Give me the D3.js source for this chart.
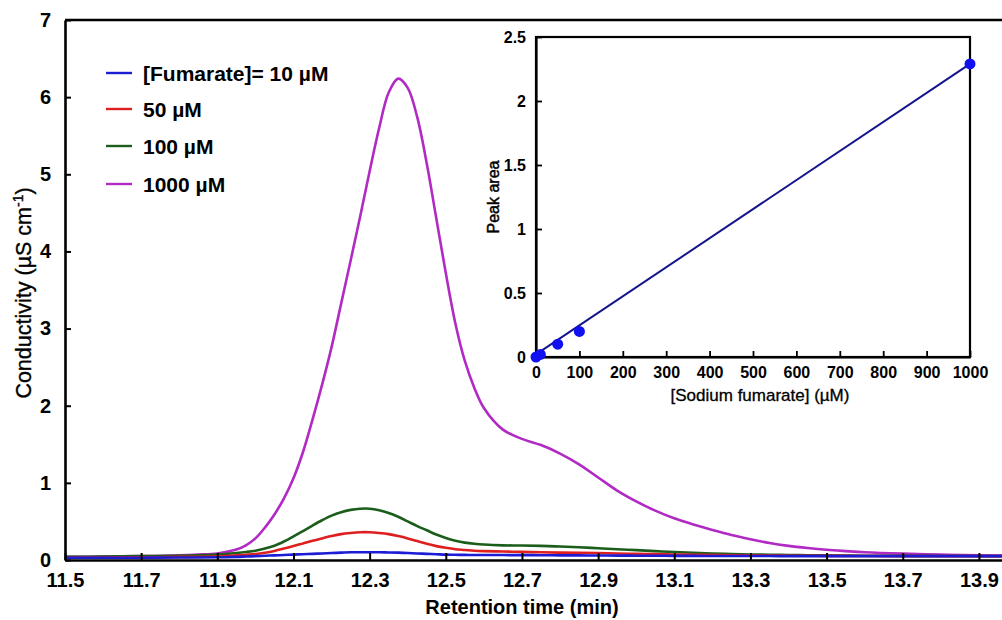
<!DOCTYPE html>
<html>
<head>
<meta charset="utf-8">
<script src="https://cdn.jsdelivr.net/npm/d3@7"></script>
<style>
  html, body { margin: 0; padding: 0; background: #fff; }
  svg { display: block; font-family: Arial, "Liberation Sans", sans-serif; }
</style>
</head>
<body>
<svg id="chart" width="1002" height="620"></svg>
<script>
// Retention times (min) shared by all chromatograms
const times = [11.5, 11.6, 11.7, 11.8, 11.85, 11.9, 11.95, 11.975,
  12.0, 12.025, 12.05, 12.075, 12.1, 12.125, 12.15, 12.175, 12.2, 12.225, 12.25, 12.275,
  12.3, 12.325, 12.35, 12.375, 12.4, 12.425, 12.45, 12.475, 12.5, 12.525, 12.55, 12.575, 12.6,
  12.65, 12.7, 12.75, 12.8, 12.85, 12.9, 12.95, 13.0, 13.05, 13.1, 13.15, 13.2, 13.25,
  13.3, 13.35, 13.4, 13.45, 13.5, 13.55, 13.6,
  13.7, 13.8, 13.9, 14.0];

// Conductivity (µS/cm) for each fumarate concentration
const cond10 = [0.03, 0.03, 0.03, 0.032, 0.033, 0.035, 0.04, 0.045,
  0.05, 0.055, 0.06, 0.065, 0.07, 0.075, 0.08, 0.085, 0.09, 0.095, 0.10, 0.10,
  0.10, 0.10, 0.098, 0.095, 0.09, 0.085, 0.08, 0.075, 0.07, 0.068, 0.066, 0.065, 0.065,
  0.064, 0.063, 0.062, 0.06, 0.06, 0.058, 0.057, 0.056, 0.055, 0.054, 0.053, 0.052, 0.052,
  0.051, 0.051, 0.05, 0.05, 0.05, 0.05, 0.05,
  0.05, 0.05, 0.05, 0.05];

const cond50 = [0.03, 0.032, 0.035, 0.04, 0.042, 0.047, 0.06, 0.068,
  0.078, 0.095, 0.118, 0.148, 0.18, 0.215, 0.25, 0.28, 0.31, 0.335, 0.35, 0.36,
  0.36, 0.35, 0.335, 0.31, 0.28, 0.245, 0.21, 0.18, 0.158, 0.14, 0.13, 0.12, 0.115,
  0.11, 0.105, 0.10, 0.095, 0.092, 0.09, 0.085, 0.08, 0.076, 0.072, 0.068, 0.065, 0.062,
  0.06, 0.058, 0.056, 0.055, 0.054, 0.053, 0.052,
  0.05, 0.05, 0.05, 0.05];

const cond100 = [0.04, 0.045, 0.05, 0.055, 0.06, 0.07, 0.09, 0.103,
  0.12, 0.148, 0.185, 0.24, 0.305, 0.375, 0.447, 0.515, 0.575, 0.62, 0.65, 0.665,
  0.665, 0.645, 0.61, 0.56, 0.50, 0.44, 0.385, 0.33, 0.285, 0.25, 0.225, 0.21, 0.20,
  0.19, 0.188, 0.183, 0.175, 0.165, 0.153, 0.14, 0.128, 0.115, 0.103, 0.093, 0.085, 0.078,
  0.072, 0.068, 0.065, 0.062, 0.06, 0.058, 0.056,
  0.054, 0.052, 0.05, 0.05];

const cond1000 = [0.04, 0.045, 0.05, 0.06, 0.07, 0.085, 0.135, 0.19,
  0.28, 0.42, 0.59, 0.80, 1.06, 1.40, 1.82, 2.27, 2.76, 3.32, 3.88, 4.45,
  5.04, 5.60, 6.06, 6.24, 6.12, 5.74, 5.14, 4.43, 3.72, 3.07, 2.58, 2.23, 1.97,
  1.69, 1.57, 1.49, 1.38, 1.24, 1.07, 0.90, 0.76, 0.64, 0.54, 0.46, 0.39, 0.325,
  0.27, 0.22, 0.183, 0.155, 0.132, 0.115, 0.10,
  0.082, 0.07, 0.06, 0.055];

const seriesLabels = ["[Fumarate]= 10 \u00b5M", "50 \u00b5M", "100 \u00b5M", "1000 \u00b5M"];
const seriesColors = ["#1c1cd4", "#de1f1f", "#1b5e1b", "#b22ac4"];

const xTicks = [11.5, 11.7, 11.9, 12.1, 12.3, 12.5, 12.7, 12.9, 13.1, 13.3, 13.5, 13.7, 13.9];
const yTicks = [0, 1, 2, 3, 4, 5, 6, 7];

// Calibration (inset)
const concentrations = [0, 10, 50, 100, 1000];
const peakAreas = [0, 0.02, 0.10, 0.20, 2.29];
const fitSlope = 0.00227;
const fitIntercept = 0.02;
const insetXTicks = [0, 100, 200, 300, 400, 500, 600, 700, 800, 900, 1000];
const insetYTicks = [0, 0.5, 1, 1.5, 2, 2.5];

const svg = d3.select("#chart");

// ---------- main chromatogram ----------
const x = d3.scaleLinear().domain([11.5, 14.0]).range([65, 1017]);
const y = d3.scaleLinear().domain([0, 7]).range([560, 20]);

const allSeries = [cond10, cond50, cond100, cond1000];
const line = d3.line()
  .x((d, i) => x(times[i]))
  .y(d => y(d))
  .curve(d3.curveCatmullRom.alpha(0.5));

// draw larger concentrations first so the low curves stay visible
const drawOrder = [3, 2, 1, 0];
svg.append("g").selectAll("path")
  .data(drawOrder)
  .join("path")
  .attr("d", k => line(allSeries[k]))
  .attr("fill", "none")
  .attr("stroke", k => seriesColors[k])
  .attr("stroke-width", 2.6)
  .attr("stroke-linejoin", "round");

// axes
const xAxis = d3.axisBottom(x).tickValues(xTicks).tickFormat(d3.format(".1f"))
  .tickSizeInner(-7).tickSizeOuter(0).tickPadding(12);
const gx = svg.append("g").attr("transform", `translate(0,${y(0)})`).call(xAxis);
const yAxis = d3.axisLeft(y).tickValues(yTicks).tickFormat(d3.format("d"))
  .tickSizeInner(-6).tickSizeOuter(0).tickPadding(14);
const gy = svg.append("g").attr("transform", `translate(${x(11.5)},0)`).call(yAxis);

[gx, gy].forEach(g => {
  g.select(".domain").attr("stroke", "#000").attr("stroke-width", 2.6);
  g.selectAll(".tick line").attr("stroke", "#000").attr("stroke-width", 2);
  g.selectAll(".tick text").attr("fill", "#000").attr("font-size", 20)
    .attr("font-weight", "bold").attr("font-family", "Arial, 'Liberation Sans', sans-serif");
});
gx.selectAll(".tick text").attr("dy", "0.74em");

// top frame edge
svg.append("line")
  .attr("x1", x(11.5)).attr("x2", 1002)
  .attr("y1", y(7)).attr("y2", y(7))
  .attr("stroke", "#000").attr("stroke-width", 2.6);

// axis titles
svg.append("text")
  .attr("x", 522).attr("y", 614)
  .attr("text-anchor", "middle")
  .attr("font-size", 20).attr("font-weight", "bold")
  .text("Retention time (min)");

const yTitle = svg.append("text")
  .attr("transform", "translate(31,293) rotate(-90)")
  .attr("text-anchor", "middle")
  .attr("font-size", 21.5)
  .attr("stroke", "#000").attr("stroke-width", 0.35);
yTitle.append("tspan").text("Conductivity (\u00b5S cm");
yTitle.append("tspan").attr("baseline-shift", "super").attr("font-size", 14).text("-1");
yTitle.append("tspan").text(")");

// legend
const legendY = [73, 109, 146, 184];
const legend = svg.append("g").selectAll("g")
  .data(seriesLabels)
  .join("g")
  .attr("transform", (d, i) => `translate(106,${legendY[i]})`);
legend.append("line")
  .attr("x1", 0).attr("x2", 26).attr("y1", 0).attr("y2", 0)
  .attr("stroke", (d, i) => seriesColors[i]).attr("stroke-width", 2.4);
legend.append("text")
  .attr("x", 37).attr("y", 0).attr("dy", "0.36em")
  .attr("font-size", 21).attr("font-weight", "bold")
  .text(d => d);

// ---------- inset: calibration ----------
const ix = d3.scaleLinear().domain([0, 1000]).range([536, 970]);
const iy = d3.scaleLinear().domain([0, 2.5]).range([357, 37]);

const inset = svg.append("g");
inset.append("rect")
  .attr("x", ix(0)).attr("y", iy(2.5))
  .attr("width", ix(1000) - ix(0)).attr("height", iy(0) - iy(2.5))
  .attr("fill", "#fff").attr("stroke", "#000").attr("stroke-width", 2.2);

const ixAxis = d3.axisBottom(ix).tickValues(insetXTicks).tickFormat(d3.format("d"))
  .tickSizeInner(-6).tickSizeOuter(0).tickPadding(10);
const giX = inset.append("g").attr("transform", `translate(0,${iy(0)})`).call(ixAxis);
const iyAxis = d3.axisLeft(iy).tickValues(insetYTicks).tickFormat(d => String(d))
  .tickSizeInner(-6).tickSizeOuter(0).tickPadding(10);
const giY = inset.append("g").attr("transform", `translate(${ix(0)},0)`).call(iyAxis);
[giX, giY].forEach(g => {
  g.select(".domain").attr("stroke", "#000").attr("stroke-width", 2.2);
  g.selectAll(".tick line").attr("stroke", "#000").attr("stroke-width", 1.8);
  g.selectAll(".tick text").attr("fill", "#000").attr("font-size", 16)
    .attr("font-weight", "bold").attr("font-family", "Arial, 'Liberation Sans', sans-serif");
});

// linear fit
inset.append("line")
  .attr("x1", ix(0)).attr("y1", iy(fitIntercept))
  .attr("x2", ix(1000)).attr("y2", iy(fitIntercept + fitSlope * 1000))
  .attr("stroke", "#14148c").attr("stroke-width", 2);

inset.append("g").selectAll("circle")
  .data(concentrations)
  .join("circle")
  .attr("cx", d => ix(d))
  .attr("cy", (d, i) => iy(peakAreas[i]))
  .attr("r", 5.5)
  .attr("fill", "#1010f0");

inset.append("text")
  .attr("x", 760).attr("y", 401)
  .attr("text-anchor", "middle")
  .attr("font-size", 17)
  .attr("stroke", "#000").attr("stroke-width", 0.3)
  .text("[Sodium fumarate] (\u00b5M)");
inset.append("text")
  .attr("transform", "translate(499,197) rotate(-90)")
  .attr("text-anchor", "middle")
  .attr("font-size", 16)
  .attr("stroke", "#000").attr("stroke-width", 0.45)
  .text("Peak area");
</script>
</body>
</html>
